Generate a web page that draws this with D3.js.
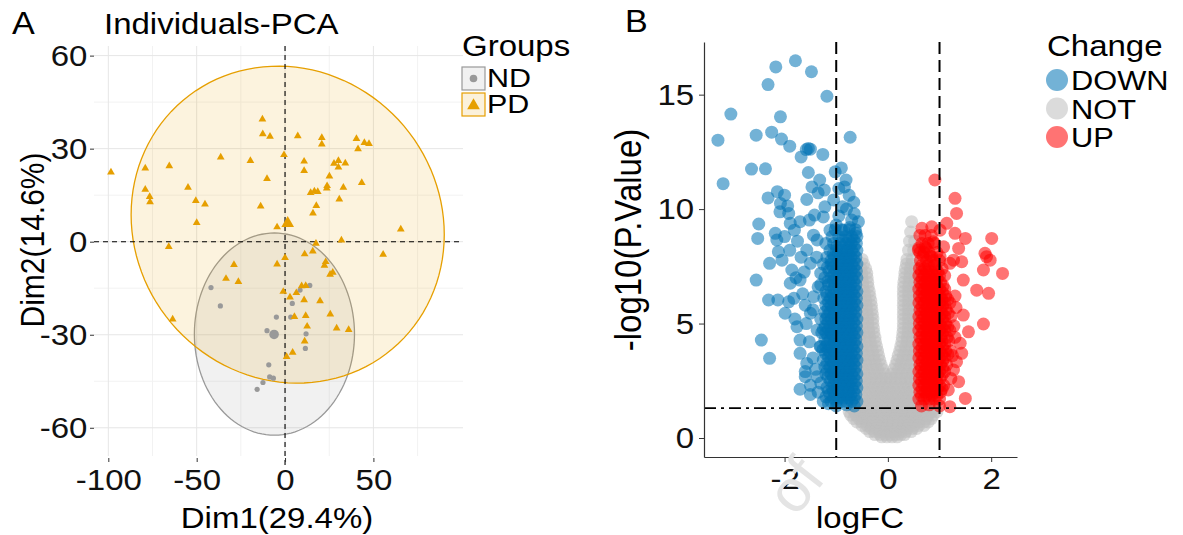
<!DOCTYPE html>
<html>
<head>
<meta charset="utf-8">
<script src="https://cdn.jsdelivr.net/npm/d3@7.9.0/dist/d3.min.js"></script>
<style>
  body { margin: 0; background: #fff; }
  svg { display: block; font-family: "Liberation Sans", Arial, sans-serif; }
</style>
</head>
<body>
<div id="chart"></div>
<script>
// ---------- panel A data (PCA individuals) ----------
const pcaGroups = ['ND', 'PD'];
const pcaColors = ['#999999', '#E69F00'];
const pdPoints = [
  [-12.8,39.5],[-12.6,34.7],[-8.5,33.9],[7.2,34.1],[20.8,33.5],[20.8,31.4],[40.4,33.2],[44.9,31.9],
  [47.5,31.6],[41.3,29.9],[-0.6,28.0],[-36.4,27.2],[-19.6,26.1],[10.8,25.9],[10.8,22.9],[30.2,26.1],
  [27.7,25.2],[30.2,24.0],[34.1,25.3],[-98.5,22.4],[-79.1,23.7],[-65.5,24.4],[-10.2,20.3],[25.1,21.1],
  [43.4,19.0],[23.8,18.0],[23.6,17.2],[33.0,17.5],[14.5,15.8],[16.6,16.3],[18.5,16.1],[30.7,13.7],
  [17.7,11.6],[15.8,9.2],[-79.1,16.8],[-76.6,14.5],[-76.4,12.8],[-54.9,17.5],[-50.5,13.2],[-45.3,12.1],
  [-13.8,11.4],[-50.0,6.1],[-4.5,4.7],[65.5,4.0],[-65.8,-1.6],[31.9,0.5],[17.5,-0.6],[55.5,-4.1],
  [11.1,-4.0],[15.7,-3.1],[0,-5.2],[-28.9,-7.4],[-4.5,-7.3],[23.0,-6.5],[22.3,-7.7],[27.0,-9.9],
  [25.5,-10.6],[-33.4,-11.9],[-26.4,-12.9],[9.4,-14.3],[11.7,-14.2],[-1.0,-16.1],[6.4,-16.5],[2.8,-17.9],
  [10.8,-18.8],[19.8,-19.1],[5.3,-24.2],[11.7,-23.9],[25.6,-23.4],[12.5,-27.3],[29.2,-27.9],[36.0,-28.4],
  [11.1,-32.1],[4.3,-35.7],[0.9,-37.1],[-63.6,-25.0]
];
const ndPoints = [
  [-41.9,-14.8],[-36.6,-20.7],[-4.9,-24.3],[-10.2,-28.7],[4.1,-19.9],[3.2,-24.3],[8.5,-15.6],[14.0,-14.1],
  [11.9,-29.7],[11.5,-34.4],[-9.2,-39.7],[-8.7,-43.6],[-6.6,-44.0],[-12.5,-45.4],[-15.8,-47.6]
];
const groupCenters = [[-6.2,-29.9],[1.5,5.9]];       // ND, PD
// confidence ellipses: centre, half-axes, tilt (all in data units)
const ellipseCx = [-6.0, 1.5];
const ellipseCy = [-29.8, 5.5];
const ellipseRx = [45.3, 88.6];
const ellipseRy = [32.6, 51.0];
const ellipseTilt = [0, -3.2];
const pcaXTicks = [-100, -50, 0, 50];
const pcaXMinor = [-75, -25, 25, 75];
const pcaYTicks = [-60, -30, 0, 30, 60];
const pcaYMinor = [-45, -15, 15, 45];

// ---------- panel B data (volcano) ----------
const changeLevels = ['DOWN', 'NOT', 'UP'];
const changeColors = ['#0072B5', '#BEBEBE', '#FF0000'];
const downScatter = [
  [-1.79,16.48],[-2.17,16.21],[-1.48,16.0],[-2.32,15.44],[-1.18,14.93],[-3.04,14.15],[-2.08,14.03],
  [-3.29,13.01],[-2.55,13.23],[-2.25,13.36],[-2.06,13.06],[-1.90,12.75],[-0.73,13.14],[-1.54,12.65],
  [-1.58,12.6],[-1.50,12.62],[-1.68,12.28],[-1.26,12.39],[-2.64,11.75],[-2.37,11.76],[-3.19,11.11],
  [-1.54,11.6],[-1.02,11.63],[-0.90,11.8],[-1.32,11.27],[-1.47,10.97],[-0.81,11.27],[-0.84,10.97],
  [-1.23,10.83],[-2.14,10.76],[-2.0,10.61],[-2.32,10.49],[-1.57,10.42],[-1.35,10.71],[-2.08,10.25],
  [-1.94,10.14],[-1.22,10.1],[-0.88,10.1],[-2.09,9.88],[-1.92,9.81],[-1.52,9.52],[-1.42,9.74],
  [-1.25,9.66],[-0.70,9.52],[-0.57,9.45],[-2.50,9.35],[-1.89,9.38],[-1.70,9.45],[-1.0,9.3],[-0.86,9.08],
  [-2.52,8.72],[-2.18,8.94],[-1.81,9.08],[-1.44,8.86],[-1.12,9.08],[-2.29,7.63],[-2.55,6.9],[-2.31,6.03],
  [-2.13,6.03],[-1.99,5.45],[-1.92,5.95],[-2.45,4.28],[-2.29,3.48],[-1.70,2.13],[-1.60,2.68],[-1.37,2.68],
  [-2.12,8.14],[-2.05,7.77],[-1.86,7.34],[-1.76,4.86],[-1.70,4.28],[-1.70,3.7],[-1.57,3.26],[-1.89,6.76],
  [-1.70,6.9],[-1.50,7.63],[-1.57,8.21],[-1.37,8.65],[-1.50,5.45],[-1.44,6.17],[-1.37,4.72],[-1.31,3.99],
  [-0.75,10.6],[-0.66,10.3],[-0.8,10.0],[-0.65,9.8],[-0.95,9.7],[-0.74,9.2],[-0.62,8.95],[-1.05,10.4],
  [-0.95,10.9],[-1.78,7.0],[-1.62,7.25],[-1.65,6.3],[-1.82,6.1],[-1.6,5.8],[-1.8,5.2],[-1.58,5.0],
  [-1.45,5.6],[-1.52,4.2],[-1.45,3.5],[-1.4,3.0],[-1.5,2.3],[-1.35,2.0],[-1.38,7.9],[-1.3,7.2],
  [-1.35,6.6],[-1.68,7.9],[-1.9,8.2],[-1.75,8.6],[-2.15,8.65],[-2.0,8.8],[-1.0,1.4],[-0.8,1.45],
  [-0.65,1.4],[-1.15,1.5],[-1.25,1.6],[-1.5,1.9],[-1.6,2.9],[-1.2,1.8],[-1.3,2.4]
];
// dense DOWN band, one row per -log10(P) level: [y, [logFC, ...]]
const downRows = [
  [1.6,[-0.6,-0.7,-0.8,-0.9,-1.0,-1.1]],
  [1.75,[-0.65,-0.75,-0.85,-0.95,-1.05]],
  [1.9,[-0.62,-0.72,-0.82,-0.92,-1.02,-1.12]],
  [2.05,[-0.66,-0.76,-0.86,-0.96,-1.06,-1.15]],
  [2.2,[-0.6,-0.69,-0.78,-0.88,-0.98,-1.08,-1.18]],
  [2.35,[-0.65,-0.75,-0.85,-0.95,-1.05]],
  [2.5,[-0.61,-0.71,-0.81,-0.91,-1.01,-1.11]],
  [2.65,[-0.66,-0.76,-0.86,-0.96,-1.06,-1.16]],
  [2.8,[-0.6,-0.7,-0.8,-0.9,-1.0,-1.1,-1.2]],
  [2.95,[-0.65,-0.75,-0.85,-0.95,-1.05,-1.17]],
  [3.1,[-0.62,-0.72,-0.82,-0.92,-1.02,-1.12,-1.22]],
  [3.25,[-0.66,-0.76,-0.86,-0.96,-1.06,-1.18]],
  [3.4,[-0.6,-0.7,-0.8,-0.9,-1.0,-1.1,-1.25]],
  [3.55,[-0.65,-0.75,-0.85,-0.95,-1.05,-1.15]],
  [3.7,[-0.61,-0.71,-0.81,-0.91,-1.01,-1.11,-1.21]],
  [3.85,[-0.66,-0.76,-0.86,-0.96,-1.06,-1.16,-1.26]],
  [4.0,[-0.6,-0.7,-0.8,-0.9,-1.0,-1.1,-1.2,-1.3]],
  [4.15,[-0.65,-0.75,-0.85,-0.95,-1.05,-1.17]],
  [4.3,[-0.62,-0.72,-0.82,-0.92,-1.02,-1.12,-1.22]],
  [4.45,[-0.66,-0.76,-0.86,-0.96,-1.06,-1.16]],
  [4.6,[-0.6,-0.7,-0.8,-0.9,-1.0,-1.1,-1.2,-1.28]],
  [4.75,[-0.65,-0.75,-0.85,-0.95,-1.05,-1.15,-1.25]],
  [4.9,[-0.61,-0.71,-0.81,-0.91,-1.01,-1.11,-1.21]],
  [5.05,[-0.66,-0.76,-0.86,-0.96,-1.06,-1.16]],
  [5.2,[-0.6,-0.7,-0.8,-0.9,-1.0,-1.1,-1.2,-1.3]],
  [5.35,[-0.65,-0.75,-0.85,-0.95,-1.05,-1.17]],
  [5.5,[-0.62,-0.72,-0.82,-0.92,-1.02,-1.12,-1.22]],
  [5.65,[-0.66,-0.76,-0.86,-0.96,-1.06,-1.16]],
  [5.8,[-0.6,-0.7,-0.8,-0.9,-1.0,-1.1,-1.2]],
  [5.95,[-0.65,-0.75,-0.85,-0.95,-1.05,-1.15]],
  [6.1,[-0.61,-0.71,-0.81,-0.91,-1.01,-1.11,-1.24]],
  [6.25,[-0.66,-0.76,-0.86,-0.96,-1.06,-1.18]],
  [6.4,[-0.6,-0.7,-0.8,-0.9,-1.0,-1.1,-1.2]],
  [6.55,[-0.65,-0.75,-0.85,-0.95,-1.05]],
  [6.7,[-0.62,-0.72,-0.82,-0.92,-1.02,-1.15,-1.3]],
  [6.85,[-0.66,-0.76,-0.86,-0.96,-1.06,-1.16]],
  [7.0,[-0.6,-0.7,-0.8,-0.9,-1.0,-1.1,-1.22]],
  [7.15,[-0.65,-0.75,-0.85,-0.95,-1.05]],
  [7.3,[-0.61,-0.71,-0.81,-0.91,-1.01,-1.14]],
  [7.45,[-0.66,-0.76,-0.86,-0.96,-1.06,-1.17]],
  [7.6,[-0.6,-0.7,-0.8,-0.9,-1.0,-1.1,-1.25]],
  [7.75,[-0.65,-0.75,-0.85,-0.95,-1.1]],
  [7.9,[-0.62,-0.72,-0.82,-0.92,-1.04,-1.18]],
  [8.05,[-0.66,-0.76,-0.86,-0.96,-1.06]],
  [8.2,[-0.6,-0.7,-0.8,-0.9,-1.0,-1.12]],
  [8.35,[-0.65,-0.75,-0.87,-0.99]],
  [8.5,[-0.61,-0.71,-0.81,-0.93,-1.05,-1.2]],
  [8.65,[-0.66,-0.76,-0.88]],
  [8.8,[-0.6,-0.7,-0.82,-0.95,-1.08]],
  [9.1,[-0.63,-0.75,-0.9,-1.02]]
];
const upScatter = [
  [1.30,10.47],[1.33,9.81],[0.91,11.27],[2.01,8.72],[1.88,8.07],[1.98,7.77],[2.22,7.19],[1.85,7.34],
  [1.50,8.72],[1.30,8.94],[1.14,9.38],[1.37,8.28],[1.43,7.70],[1.27,7.77],[1.46,6.9],[1.72,6.46],
  [1.95,6.32],[1.46,5.37],[1.85,4.98],[1.56,4.64],[1.40,4.14],[1.43,3.7],[1.33,3.33],[1.27,2.97],
  [1.37,2.46],[1.50,1.73],[1.17,2.10],[1.20,1.37],[0.66,9.16],[0.85,9.23],[1.01,9.08],[0.59,8.21],
  [0.72,8.35],[0.88,8.57],[1.08,8.35],[1.20,7.63],[1.01,7.92],[0.85,7.92],[1.91,7.92],[1.0,1.4],
  [0.8,1.45],[0.65,1.4],[1.3,6.2],[1.32,5.7],[1.28,4.9],[1.3,4.4],[1.25,3.6],[1.22,2.6]
];
const upRows = [
  [1.7,[0.6,0.7,0.8,0.9,1.0]],
  [1.85,[0.65,0.75,0.85,0.95]],
  [2.0,[0.62,0.72,0.82,0.92,1.02]],
  [2.15,[0.66,0.76,0.86,0.96,1.05]],
  [2.3,[0.6,0.7,0.8,0.9,1.0,1.08]],
  [2.45,[0.65,0.75,0.85,0.95]],
  [2.6,[0.61,0.71,0.81,0.91,1.01]],
  [2.75,[0.66,0.76,0.86,0.96,1.05]],
  [2.9,[0.6,0.7,0.8,0.9,1.0,1.1]],
  [3.05,[0.65,0.75,0.85,0.95,1.06]],
  [3.2,[0.62,0.72,0.82,0.92,1.02,1.14]],
  [3.35,[0.66,0.76,0.86,0.96,1.06]],
  [3.5,[0.6,0.7,0.8,0.9,1.0,1.1]],
  [3.65,[0.65,0.75,0.85,0.95,1.05,1.16]],
  [3.8,[0.61,0.71,0.81,0.91,1.01,1.12,1.22]],
  [3.95,[0.66,0.76,0.86,0.96,1.06]],
  [4.1,[0.6,0.7,0.8,0.9,1.0,1.1]],
  [4.25,[0.65,0.75,0.85,0.95,1.05,1.18]],
  [4.4,[0.62,0.72,0.82,0.92,1.02,1.15]],
  [4.55,[0.66,0.76,0.86,0.96,1.06]],
  [4.7,[0.6,0.7,0.8,0.9,1.0,1.1,1.2]],
  [4.85,[0.65,0.75,0.85,0.95,1.05,1.16]],
  [5.0,[0.61,0.71,0.81,0.91,1.01,1.12]],
  [5.15,[0.66,0.76,0.86,0.96,1.06]],
  [5.3,[0.6,0.7,0.8,0.9,1.0,1.1,1.22]],
  [5.45,[0.65,0.75,0.85,0.95,1.05,1.17]],
  [5.6,[0.62,0.72,0.82,0.92,1.02,1.13]],
  [5.75,[0.66,0.76,0.86,0.96,1.06]],
  [5.9,[0.6,0.7,0.8,0.9,1.0,1.1,1.2]],
  [6.05,[0.65,0.75,0.85,0.95,1.05,1.16]],
  [6.2,[0.61,0.71,0.81,0.91,1.01,1.12]],
  [6.35,[0.66,0.76,0.86,0.96,1.06]],
  [6.5,[0.6,0.7,0.8,0.9,1.0,1.1]],
  [6.65,[0.65,0.75,0.85,0.95,1.07]],
  [6.8,[0.62,0.72,0.82,0.92,1.02]],
  [6.95,[0.66,0.76,0.86,0.96]],
  [7.1,[0.6,0.7,0.8,0.9,1.0,1.1]],
  [7.25,[0.65,0.75,0.85,0.97]],
  [7.4,[0.61,0.71,0.81,0.93,1.05]],
  [7.55,[0.66,0.78,0.9]],
  [7.75,[0.63,0.75,0.88,1.0]],
  [7.95,[0.68,0.82]],
  [8.1,[0.62,0.7,0.8,0.95]],
  [8.3,[0.6,0.74]],
  [8.5,[0.66,0.78,0.9]],
  [8.85,[0.62,0.72,0.84]]
];
const notRows = [
  [9.45,[0.46]],
  [9.0,[0.44]],
  [8.6,[0.42,0.52]],
  [8.2,[0.4,0.5]],
  [7.8,[-0.5,0.37,0.47]],
  [7.6,[-0.47,0.36,0.46]],
  [7.4,[-0.43,-0.52,0.34,0.44,0.53]],
  [7.2,[-0.41,-0.51,0.33,0.43]],
  [7.0,[-0.4,-0.5,0.32,0.42,0.52]],
  [6.8,[-0.39,-0.49,0.31,0.41,0.51]],
  [6.6,[-0.38,-0.48,0.3,0.4,0.5]],
  [6.4,[-0.36,-0.46,0.3,0.4,0.5]],
  [6.2,[-0.35,-0.45,-0.55,0.3,0.4,0.5]],
  [6.0,[-0.33,-0.43,-0.53,0.3,0.4,0.5]],
  [5.8,[-0.32,-0.42,-0.52,0.3,0.4,0.5]],
  [5.6,[-0.31,-0.41,-0.51,0.3,0.4,0.5]],
  [5.4,[-0.3,-0.4,-0.5,0.3,0.4,0.5]],
  [5.2,[-0.29,-0.39,-0.49,0.3,0.4,0.5]],
  [5.0,[-0.29,-0.39,-0.49,0.3,0.4,0.5]],
  [4.8,[-0.28,-0.38,-0.48,0.3,0.4,0.5]],
  [4.6,[-0.27,-0.37,-0.47,-0.56,0.29,0.39,0.49]],
  [4.4,[-0.25,-0.35,-0.45,-0.55,0.28,0.38,0.48]],
  [4.2,[-0.24,-0.34,-0.44,-0.54,0.27,0.37,0.47]],
  [4.0,[-0.22,-0.32,-0.42,-0.52,0.25,0.35,0.45]],
  [3.8,[-0.2,-0.3,-0.4,-0.5,0.23,0.33,0.43,0.53]],
  [3.6,[-0.18,-0.28,-0.38,-0.48,0.2,0.3,0.4,0.5]],
  [3.4,[-0.16,-0.26,-0.36,-0.46,-0.56,0.18,0.28,0.38,0.48]],
  [3.2,[-0.13,-0.23,-0.33,-0.43,-0.53,0.15,0.25,0.35,0.45]],
  [3.0,[-0.1,-0.2,-0.3,-0.4,-0.5,0.11,0.21,0.31,0.41,0.51]],
  [2.8,[-0.06,-0.16,-0.26,-0.36,-0.46,0.07,0.17,0.27,0.37,0.47]],
  [2.6,[-0.03,-0.12,-0.22,-0.32,-0.42,-0.52,0.05,0.14,0.24,0.34,0.44,0.54]],
  [2.4,[-0.05,-0.15,-0.25,-0.35,-0.45,0.05,0.15,0.25,0.35,0.45]],
  [2.2,[0.0,-0.1,-0.2,-0.3,-0.4,-0.5,0.1,0.2,0.3,0.4,0.5]],
  [2.0,[-0.05,-0.15,-0.25,-0.35,-0.45,0.05,0.15,0.25,0.35,0.45]],
  [1.8,[0.0,-0.1,-0.2,-0.3,-0.4,-0.5,0.1,0.2,0.3,0.4,0.5]],
  [1.62,[-0.05,-0.15,-0.25,-0.35,-0.45,0.05,0.15,0.25,0.35,0.45]],
  [1.45,[0.0,-0.1,-0.2,-0.3,-0.4,-0.5,-0.6,0.1,0.2,0.3,0.4,0.5,0.6]],
  [1.3,[-0.7,-0.6,-0.5,-0.4,-0.3,-0.2,-0.1,0.0,0.1,0.2,0.3,0.4,0.5,0.6,0.7,0.8,0.9]],
  [1.15,[-0.75,-0.65,-0.55,-0.45,-0.35,-0.25,-0.15,-0.05,0.05,0.15,0.25,0.35,0.45,0.55,0.65,0.75,0.85,0.95]],
  [1.0,[-0.72,-0.62,-0.52,-0.42,-0.32,-0.22,-0.12,-0.02,0.08,0.18,0.28,0.38,0.48,0.58,0.68,0.78,0.88]],
  [0.85,[-0.66,-0.56,-0.46,-0.36,-0.26,-0.16,-0.06,0.04,0.14,0.24,0.34,0.44,0.54,0.64,0.74,0.84]],
  [0.7,[-0.6,-0.5,-0.4,-0.3,-0.2,-0.1,0.0,0.1,0.2,0.3,0.4,0.5,0.6,0.7,0.78]],
  [0.55,[-0.5,-0.4,-0.3,-0.2,-0.1,0.0,0.1,0.2,0.3,0.4,0.5,0.6,0.7]],
  [0.42,[-0.42,-0.32,-0.22,-0.12,-0.02,0.08,0.18,0.28,0.38,0.48,0.56]],
  [0.28,[-0.35,-0.25,-0.15,-0.05,0.05,0.15,0.25,0.35,0.45]],
  [0.15,[-0.25,-0.15,-0.05,0.05,0.15,0.25,0.32]],
  [0.05,[-0.12,-0.02,0.08,0.18]]
];
const fcCutoffs = [-1, 1];
const pCutoff = 1.30103;            // -log10(0.05)
const volXTicks = [-2, 0, 2];
const volYTicks = [0, 5, 10, 15];

// ---------- helpers ----------
const SX = 1.1; // the reference text is a little wider than the font
const flatRows = (rows) => rows.flatMap(([y, xs]) => xs.map((x) => [x, y]));

const svg = d3.select('#chart').append('svg')
  .attr('width', 1183).attr('height', 535);

function label(x, y, txt, size, anchor = 'start', rot = 0, sx = SX) {
  return svg.append('text')
    .attr('transform', `translate(${x},${y}) scale(${sx},1)` + (rot ? ` rotate(${rot})` : ''))
    .attr('text-anchor', anchor)
    .attr('font-size', size)
    .attr('fill', '#000')
    .text(txt);
}

function styleAxis(g) {
  g.attr('font-family', null).attr('font-size', null);
  g.selectAll('.tick line').attr('stroke', '#333');
  g.selectAll('.tick text')
    .attr('font-size', 30).attr('fill', '#111')
    .attr('transform', `scale(${SX},1)`);
}

// ================= panel A =================
const pcaX = d3.scaleLinear().domain([-108.1, 100.7]).range([94, 463]);
const pcaY = d3.scaleLinear().domain([-69.1, 63.1]).range([456, 46]);

const gA = svg.append('g');
const [ax0, ax1] = pcaX.range();
const [ay0, ay1] = pcaY.range();

// grid
gA.selectAll('.vminor').data(pcaXMinor).join('line')
  .attr('x1', pcaX).attr('x2', pcaX).attr('y1', ay1).attr('y2', ay0)
  .attr('stroke', '#f2f2f2').attr('stroke-width', 1);
gA.selectAll('.hminor').data(pcaYMinor).join('line')
  .attr('y1', pcaY).attr('y2', pcaY).attr('x1', ax0).attr('x2', ax1)
  .attr('stroke', '#f2f2f2').attr('stroke-width', 1);
gA.selectAll('.vmajor').data(pcaXTicks).join('line')
  .attr('x1', pcaX).attr('x2', pcaX).attr('y1', ay1).attr('y2', ay0)
  .attr('stroke', '#e6e6e6').attr('stroke-width', 1);
gA.selectAll('.hmajor').data(pcaYTicks).join('line')
  .attr('y1', pcaY).attr('y2', pcaY).attr('x1', ax0).attr('x2', ax1)
  .attr('stroke', '#e6e6e6').attr('stroke-width', 1);

// ellipses
const angles = d3.range(0, 361, 3).map((a) => a * Math.PI / 180);
const ellipseLine = d3.line();
pcaGroups.forEach((grp, i) => {
  const pts = angles.map((t) => [
    pcaX(ellipseCx[i] + ellipseRx[i] * Math.cos(t)),
    pcaY(ellipseCy[i] + ellipseRy[i] * Math.sin(t) + ellipseTilt[i] * Math.cos(t))
  ]);
  gA.append('path')
    .attr('d', ellipseLine(pts) + 'Z')
    .attr('fill', pcaColors[i]).attr('fill-opacity', i === 0 ? 0.14 : 0.13)
    .attr('stroke', pcaColors[i]).attr('stroke-width', 1.3);
});

// zero lines
gA.append('line')
  .attr('x1', pcaX(0)).attr('x2', pcaX(0)).attr('y1', ay1).attr('y2', ay0 + 10)
  .attr('stroke', '#000').attr('stroke-width', 1.1).attr('stroke-dasharray', '5,4');
gA.append('line')
  .attr('x1', ax0).attr('x2', ax1).attr('y1', pcaY(0)).attr('y2', pcaY(0))
  .attr('stroke', '#000').attr('stroke-width', 1.1).attr('stroke-dasharray', '5,4');

// points
gA.selectAll('.nd').data(ndPoints).join('circle')
  .attr('cx', (d) => pcaX(d[0])).attr('cy', (d) => pcaY(d[1]))
  .attr('r', 2.6).attr('fill', pcaColors[0]);
const tri = d3.symbol(d3.symbolTriangle, 26);
gA.selectAll('.pd').data(pdPoints).join('path')
  .attr('d', tri)
  .attr('transform', (d) => `translate(${pcaX(d[0])},${pcaY(d[1])})`)
  .attr('fill', pcaColors[1]);
gA.append('circle')
  .attr('cx', pcaX(groupCenters[0][0])).attr('cy', pcaY(groupCenters[0][1]))
  .attr('r', 4.8).attr('fill', pcaColors[0]);
gA.append('path')
  .attr('d', d3.symbol(d3.symbolTriangle, 70))
  .attr('transform', `translate(${pcaX(groupCenters[1][0])},${pcaY(groupCenters[1][1])})`)
  .attr('fill', pcaColors[1]);

// axes (ticks + labels only)
const axA_y = gA.append('g').attr('transform', `translate(${ax0},0)`)
  .call(d3.axisLeft(pcaY).tickValues(pcaYTicks).tickSize(4).tickPadding(2)
    .tickFormat((d) => String(d)));
axA_y.select('.domain').remove();
styleAxis(axA_y);
const axA_x = gA.append('g').attr('transform', `translate(0,${ay0 + 2})`)
  .call(d3.axisBottom(pcaX).tickValues(pcaXTicks).tickSize(4).tickPadding(7)
    .tickFormat((d) => String(d)));
axA_x.select('.domain').remove();
styleAxis(axA_x);

label(12, 34, 'A', 31);
label(104, 34, 'Individuals-PCA', 30);
label(277, 528, 'Dim1(29.4%)', 30, 'middle');
label(44, 240, 'Dim2(14.6%)', 30, 'middle', -90);

// legend A
label(462, 56, 'Groups', 30);
pcaGroups.forEach((grp, i) => {
  const ky = 67 + i * 26;
  gA.append('rect').attr('x', 462).attr('y', ky).attr('width', 23).attr('height', 23)
    .attr('fill', pcaColors[i]).attr('fill-opacity', 0.14)
    .attr('stroke', pcaColors[i]).attr('stroke-width', 1.2);
  if (i === 0) {
    gA.append('circle').attr('cx', 473.5).attr('cy', ky + 11.5).attr('r', 3.8).attr('fill', pcaColors[0]);
  } else {
    gA.append('path').attr('d', d3.symbol(d3.symbolTriangle, 70))
      .attr('transform', `translate(473.5,${ky + 12.5})`).attr('fill', pcaColors[1]);
  }
  label(487, ky + 20, grp, 25, 'start', 0, 1.22);
});

// ================= panel B =================
const volX = d3.scaleLinear().domain([-3.56, 2.5]).range([704, 1017]);
const volY = d3.scaleLinear().domain([-0.83, 17.3]).range([457, 42]);
const gB = svg.append('g');

const volData = [
  ...flatRows(notRows).map((d) => ({ fc: d[0], p: d[1], change: 'NOT' })),
  ...downScatter.map((d) => ({ fc: d[0], p: d[1], change: 'DOWN' })),
  ...flatRows(downRows).map((d) => ({ fc: d[0], p: d[1], change: 'DOWN' })),
  ...upScatter.map((d) => ({ fc: d[0], p: d[1], change: 'UP' })),
  ...flatRows(upRows).map((d) => ({ fc: d[0], p: d[1], change: 'UP' }))
];
const changeColor = d3.scaleOrdinal().domain(changeLevels).range(changeColors);

gB.selectAll('.pt').data(volData).join('circle')
  .attr('cx', (d) => volX(d.fc)).attr('cy', (d) => volY(d.p))
  .attr('r', 6.5).attr('fill', (d) => changeColor(d.change)).attr('fill-opacity', 0.55);

// cutoff lines
gB.selectAll('.vcut').data(fcCutoffs).join('line')
  .attr('x1', volX).attr('x2', volX).attr('y1', volY.range()[1]).attr('y2', volY.range()[0])
  .attr('stroke', '#000').attr('stroke-width', 2).attr('stroke-dasharray', '12,6');
gB.append('line')
  .attr('x1', volX.range()[0]).attr('x2', volX.range()[1])
  .attr('y1', volY(pCutoff)).attr('y2', volY(pCutoff))
  .attr('stroke', '#000').attr('stroke-width', 1.8).attr('stroke-dasharray', '12,5,3,5');

// axes
const axB_y = gB.append('g').attr('transform', `translate(${volX.range()[0]},0)`)
  .call(d3.axisLeft(volY).tickValues(volYTicks).tickSize(5).tickSizeOuter(0).tickPadding(4)
    .tickFormat((d) => String(d)));
axB_y.select('.domain').attr('stroke', '#333').attr('stroke-width', 1.2);
styleAxis(axB_y);
const axB_x = gB.append('g').attr('transform', `translate(0,${volY.range()[0]})`)
  .call(d3.axisBottom(volX).tickValues(volXTicks).tickSize(5).tickSizeOuter(0).tickPadding(6)
    .tickFormat((d) => String(d)));
axB_x.select('.domain').attr('stroke', '#333').attr('stroke-width', 1.2);
styleAxis(axB_x);

label(625, 32, 'B', 31);
label(860, 528, 'logFC', 30, 'middle');
label(641, 240, '-log10(P.Value)', 33, 'middle', -90);

// legend B
label(1047, 56, 'Change', 30);
changeLevels.forEach((lvl, i) => {
  const ky = 80 + i * 28.5;
  gB.append('circle').attr('cx', 1057).attr('cy', ky).attr('r', 11)
    .attr('fill', changeColors[i]).attr('fill-opacity', 0.55);
  label(1071, ky + 10, lvl, 28);
});

// faint watermark over the x title, as in the source figure
svg.append('text')
  .attr('transform', 'translate(796,518) rotate(-52)')
  .attr('font-size', 60).attr('fill', '#e4e4e4')
  .text('of');
</script>
</body>
</html>
